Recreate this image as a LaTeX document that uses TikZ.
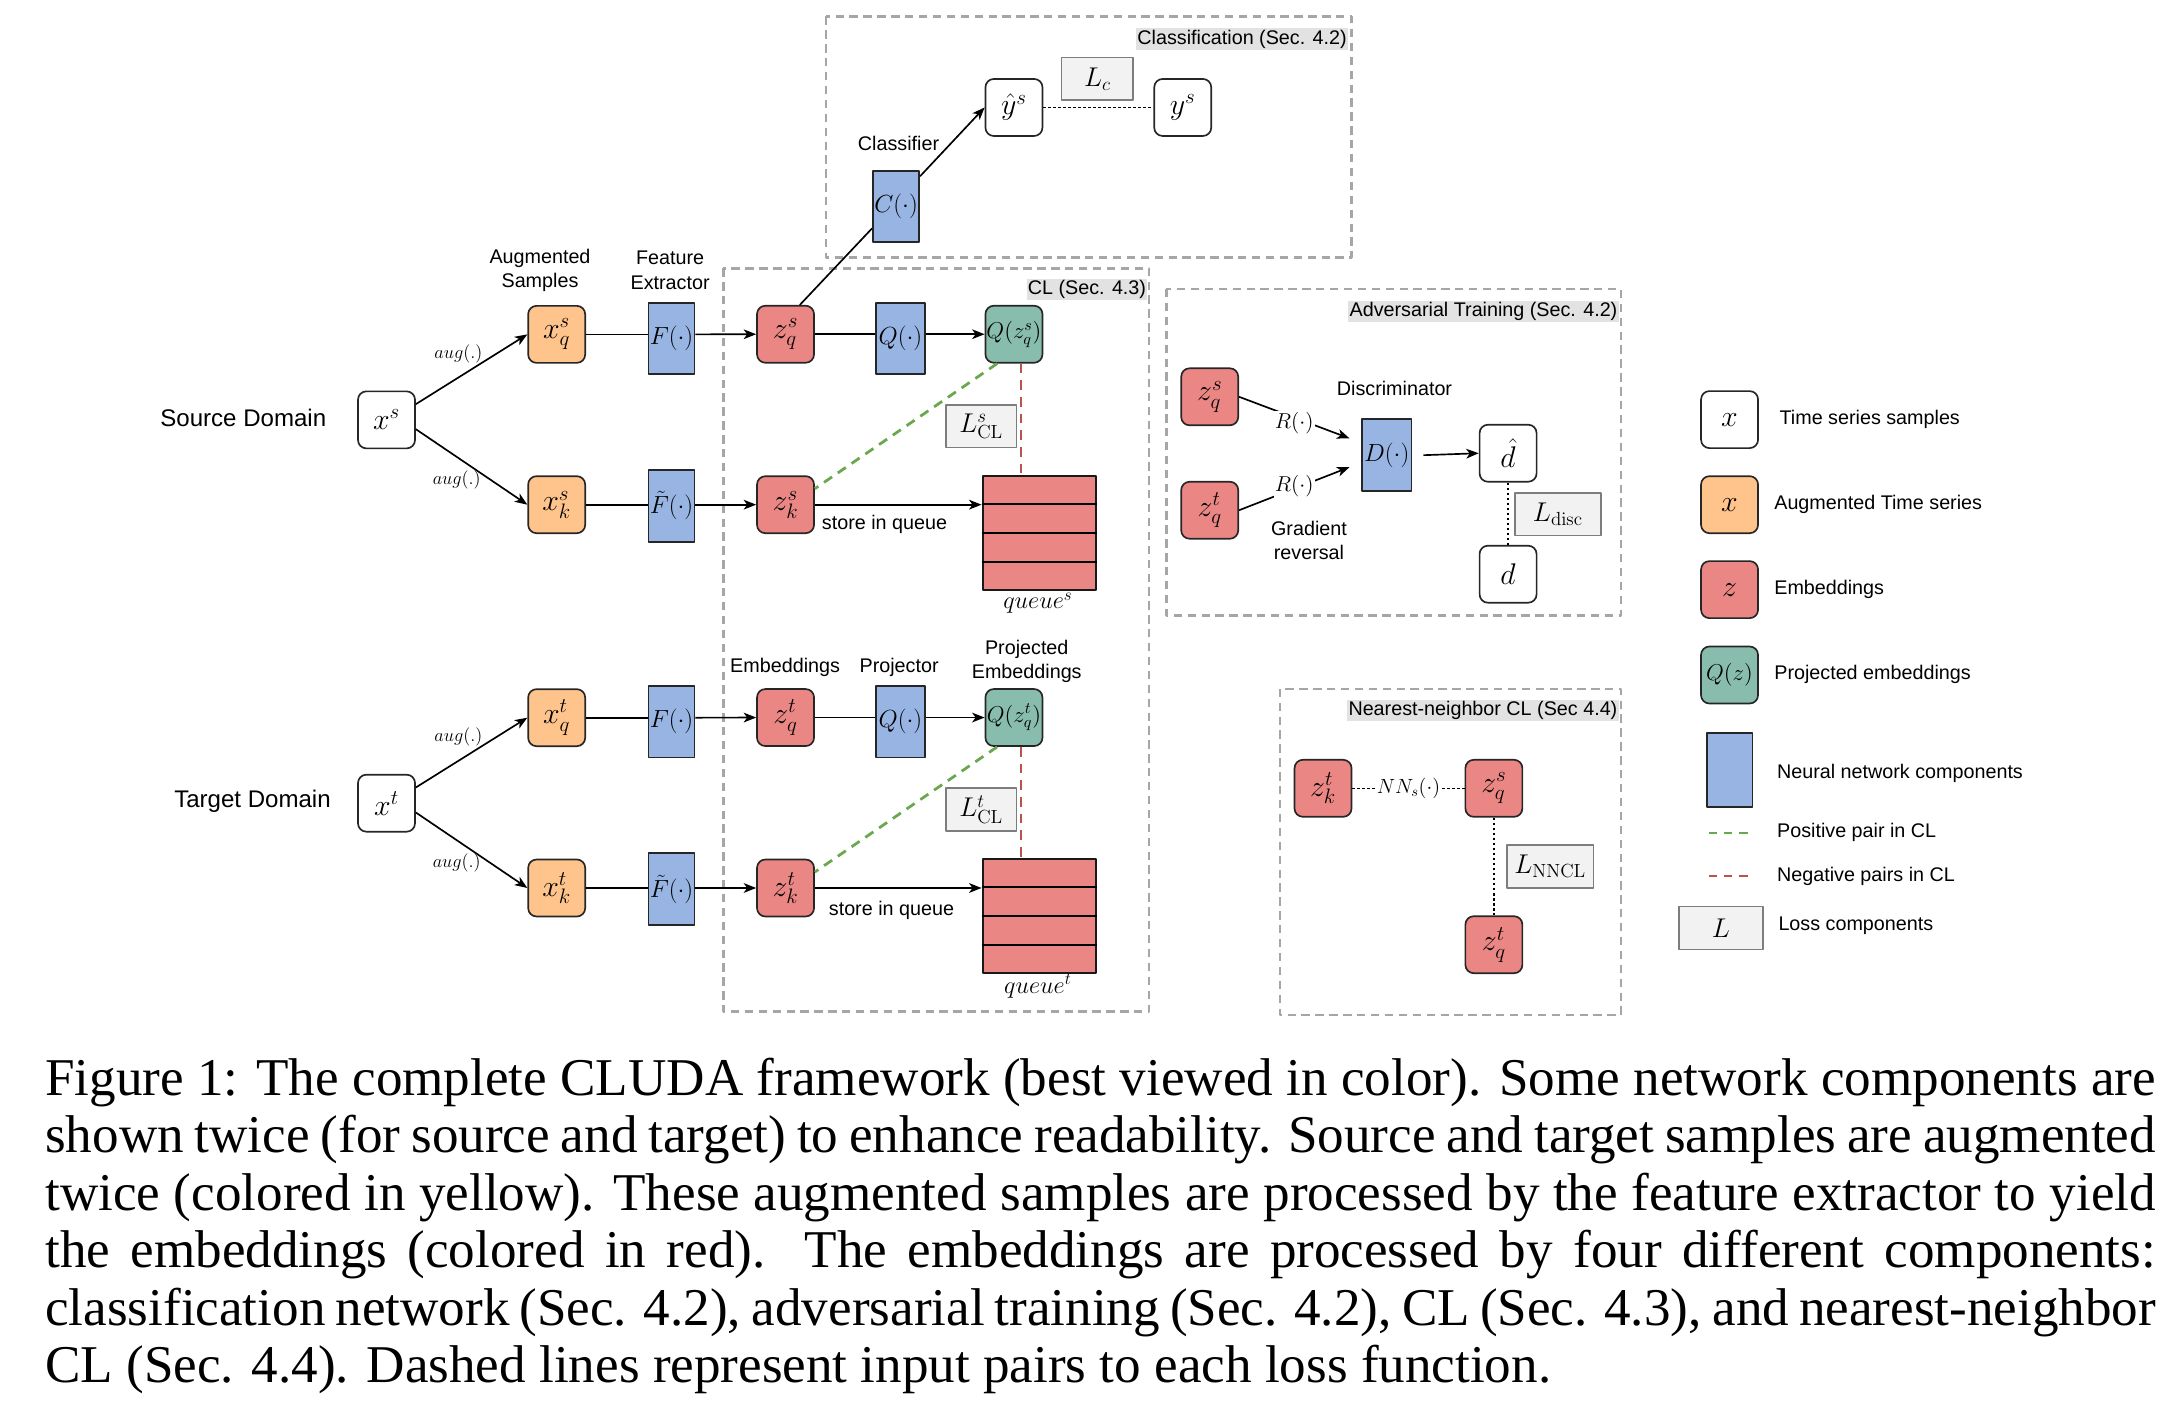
\RequirePackage{fix-cm}
\documentclass[tikz,border=0pt]{standalone}
\usepackage[no-math]{fontspec}
\setmainfont{Liberation Sans}
\newfontfamily\captfont{Liberation Serif}
\usetikzlibrary{arrows.meta,calc}
\definecolor{cOrange}{RGB}{255,196,140}
\definecolor{cRed}{RGB}{234,135,132}
\definecolor{cGreen}{RGB}{136,189,174}
\definecolor{cBlue}{RGB}{151,180,227}
\definecolor{cSec}{RGB}{166,166,166}
\definecolor{cTitle}{RGB}{226,226,226}
\definecolor{cLossFill}{RGB}{242,242,242}
\definecolor{cLossDraw}{RGB}{125,125,125}
\definecolor{cPos}{RGB}{106,168,79}
\definecolor{cNeg}{RGB}{184,84,80}
\newcommand\fsLab{\fontsize{14.2}{17.5}\selectfont}
\newcommand\fsDom{\fontsize{17.3}{20}\selectfont}
\newcommand\fsMath{\fontsize{21.5}{23}\selectfont}
\newcommand\fsLoss{\fontsize{19.5}{22}\selectfont}
\newcommand\fsQz{\fontsize{16.5}{18}\selectfont}
\tikzset{
 bx/.style={draw=black!85, line width=1.2pt, rounded corners=6pt, minimum width=41pt, minimum height=41pt, inner sep=0pt, font=\fsMath},
 wb/.style={bx, fill=white},
 ob/.style={bx, fill=cOrange},
 rb/.style={bx, fill=cRed},
 gb/.style={bx, fill=cGreen},
 nn/.style={draw=black!85, line width=1.3pt, fill=cBlue, minimum width=33pt, minimum height=51.5pt, inner sep=0pt, font=\fontsize{17.8}{20}\selectfont},
 qbox/.style={draw=black!90, line width=1.5pt, fill=cRed, minimum width=81.7pt, minimum height=82pt, inner sep=0pt},
 loss/.style={draw=cLossDraw, line width=1.2pt, fill=cLossFill, minimum width=51pt, minimum height=30.7pt, inner sep=0pt, font=\fsLoss},
 secbox/.style={draw=cSec, line width=1.8pt, dash pattern=on 6pt off 4pt},
 sectitle/.style={fill=cTitle, inner sep=1pt, font=\fsLab, anchor=east},
 lab/.style={font=\fsLab, align=center, inner sep=0pt},
 arr/.style={-{Stealth[length=9pt,width=7pt,inset=2.5pt]}, line width=1.2pt},
 ln/.style={line width=1.2pt},
 dotl/.style={line width=1.1pt, dash pattern=on 2pt off 1.6pt},
 posl/.style={draw=cPos, line width=2pt, dash pattern=on 7pt off 5pt},
 negl/.style={draw=cNeg, line width=2pt, dash pattern=on 7pt off 5pt},
 auglab/.style={font=\fontsize{13.2}{15}\selectfont, inner sep=0pt},
}
\begin{document}
\begin{tikzpicture}[x=1pt, y=-1pt, line join=round]
\useasboundingbox (0,0) rectangle (1568,1008.4);

% ---------- section frames ----------
\draw[secbox] (594,11.8) rectangle (972,185.3);
\draw[secbox] (520.3,193) rectangle (826.6,727.6);
\draw[secbox] (839,207.9) rectangle (1166,442.7);
\draw[secbox] (920.7,495.4) rectangle (1166,730);
\node[sectitle] (tCls) at (969.8,28) {Classification (Sec. 4.2)};
\node[sectitle] (tCL) at (825.5,208.5) {CL (Sec. 4.3)};
\node[sectitle] (tAdv) at (1164.5,223.8) {Adversarial Training (Sec. 4.2)};
\node[sectitle] (tNN) at (1164.5,511) {Nearest-neighbor CL (Sec 4.4)};

% ---------- domain rows ----------
\foreach \dm/\yo in {s/0,t/275.7}{
  \node[wb] (x\dm) at (278,{302+\yo}) {$x^\dm$};
  \node[ob] (xq\dm) at (400.4,{240.5+\yo}) {$x^\dm_q$};
  \node[ob] (xk\dm) at (400.4,{363+\yo}) {$x^\dm_k$};
  \node[nn] (F\dm) at (483,{243.4+\yo}) {$F(\cdot)$};
  \node[nn] (Ft\dm) at (483,{363.8+\yo}) {$\tilde{F}(\cdot)$};
  \node[rb] (zq\dm) at (565,{240.4+\yo}) {$z^\dm_q$};
  \node[rb] (zk\dm) at (565,{363+\yo}) {$z^\dm_k$};
  \node[nn, minimum width=35.3pt] (Q\dm) at (647.6,{243.4+\yo}) {$Q(\cdot)$};
  \node[gb, font=\fsQz] (Qz\dm) at (729.3,{240.4+\yo}) {$Q(z^\dm_q)$};
  \node[qbox] (qu\dm) at (747.6,{383.4+\yo}) {};
  \foreach \f in {0.25,0.5,0.75}
    \draw[line width=1.5pt] ($(qu\dm.north west)!\f!(qu\dm.south west)$) -- ($(qu\dm.north east)!\f!(qu\dm.south east)$);
  \node[loss] (LCL\dm) at (705.7,{306.6+\yo}) {$L^\dm_{\mathrm{CL}}$};
  \node[font=\fontsize{17.5}{19}\selectfont, inner sep=0pt] (qul\dm) at (746.5,{433.8+\yo}) {$queue^\dm$};
  \node[auglab] (augq\dm) at (329.7,{254.6+\yo}) {$aug(.)$};
  \node[auglab] (augk\dm) at (328.5,{345.3+\yo}) {$aug(.)$};
  \draw[arr] ($(x\dm.east)+(0,-11.3)$) -- (xq\dm.west);
  \draw[arr] ($(x\dm.east)+(0,6.7)$) -- (xk\dm.west);
  \draw[ln] (xq\dm.east) -- (xq\dm.east -| F\dm.west);
  \draw[arr] (xq\dm.east -| F\dm.east) -- (zq\dm.west);
  \draw[ln] (xk\dm.east) -- (xk\dm.east -| Ft\dm.west);
  \draw[arr] (xk\dm.east -| Ft\dm.east) -- (zk\dm.west);
  \draw[ln] (zq\dm.east) -- (zq\dm.east -| Q\dm.west);
  \draw[arr] (zq\dm.east -| Q\dm.east) -- (Qz\dm.west);
  \draw[arr] (zk\dm.east) -- (zk\dm.east -| qu\dm.west);
  \draw[posl] ($(Qz\dm.south west)+(9,0)$) -- ($(zk\dm.north east)+(0,9.6)$);
  \coordinate (rq\dm) at ($(Qz\dm.south)+(5.1,0)$);
  \draw[negl] (rq\dm) -- (rq\dm |- qu\dm.north);
}

\node[font=\fsDom, inner sep=0pt] (srcDom) at (175,300.5) {Source Domain};
\node[font=\fsDom, inner sep=0pt] (tgtDom) at (181.6,576.6) {Target Domain};
\node[lab] (augS) at (388.4,194.5) {Augmented\\Samples};
\node[lab] (featE) at (482,194.5) {Feature\\Extractor};
\node[lab, anchor=west] (sqS) at (591,377) {store in queue};
\node[lab, anchor=west] (sqT) at (596,654.5) {store in queue};
\node[lab] (embL) at (564.7,480) {Embeddings};
\node[lab] (projL) at (646.7,480) {Projector};
\node[lab] (pembL) at (738.5,475.6) {Projected\\Embeddings};

% ---------- classification ----------
\node[nn, minimum width=33.3pt, minimum height=51.4pt] (C) at (644.5,148.5) {$C(\cdot)$};
\node[wb] (yhat) at (729.3,77.3) {$\hat{y}^s$};
\node[wb] (ys) at (850.7,77.3) {$y^s$};
\node[loss, minimum width=51.4pt, minimum height=30.8pt] (Lc) at (789.3,56.7) {$L_c$};
\node[lab] (clsL) at (646.3,103.2) {Classifier};
\draw[dotl] (yhat) -- (ys);
\draw[ln] ($(zqs.north)+(10.3,0)$) -- ($(C.west)+(0,15.8)$);
\draw[arr] ($(C.north east)+(0,4.6)$) -- (yhat.west);

% ---------- adversarial ----------
\node[rb] (zqsA) at (870.1,285.4) {$z^s_q$};
\node[rb] (zqtA) at (870.1,367) {$z^t_q$};
\node[nn, minimum width=35.6pt, minimum height=51.6pt] (D) at (997.4,327.4) {$D(\cdot)$};
\node[wb] (dhat) at (1084.7,326) {$\hat{d}$};
\node[wb] (dd) at (1084.7,413) {$d$};
\node[loss, minimum width=61.6pt, minimum height=30.6pt] (Ldisc) at (1120.5,369.9) {$L_{\mathrm{disc}}$};
\node[lab] (discL) at (1003,279.6) {Discriminator};
\node[lab] (gradL) at (941.5,388.6) {Gradient\\reversal};
\draw[arr] (zqsA.east) -- node[fill=white, inner sep=1pt, yshift=-4pt, font=\fontsize{15.5}{17}\selectfont] {$R(\cdot)$} ($(D.west)+(-8.3,-12.1)$);
\draw[arr] (zqtA.east) -- node[fill=white, inner sep=1pt, yshift=2pt, font=\fontsize{15.5}{17}\selectfont] {$R(\cdot)$} ($(D.west)+(-8.3,8.6)$);
\draw[arr] ([xshift=8pt]D.east) -- (dhat.west);
\draw[dotl] (dhat) -- (dd);

% ---------- nearest neighbour ----------
\node[rb] (zktN) at (951.6,567) {$z^t_k$};
\node[rb] (zqsN) at (1074.5,567) {$z^s_q$};
\node[rb] (zqtN) at (1074.5,679.5) {$z^t_q$};
\node[loss, minimum width=62.4pt, minimum height=30.9pt] (Lnn) at (1115,623.2) {$L_{\mathrm{NNCL}}$};
\draw[dotl] (zktN) -- node[fill=white, inner sep=1pt, font=\fontsize{14.8}{16}\selectfont] {$NN_s(\cdot)$} (zqsN);
\draw[dotl] (zqsN) -- (zqtN);

% ---------- legend ----------
\node[wb] (lgx) at (1244,301.8) {$x$};
\node[ob] (lgax) at (1244,363) {$x$};
\node[rb] (lgz) at (1244,424.1) {$z$};
\node[gb, font=\fsQz] (lgq) at (1244,485.5) {$Q(z)$};
\node[nn, minimum width=33pt, minimum height=53.5pt] (lgnn) at (1244,553.7) {};
\coordinate (lgpa) at (1229,599);
\coordinate (lgpb) at (1261,599);
\coordinate (lgna) at (1229,630);
\coordinate (lgnb) at (1261,630);
\draw[posl, line width=1.6pt, dash pattern=on 6pt off 5pt] (lgpa) -- (lgpb);
\draw[negl, line width=1.6pt, dash pattern=on 6pt off 5pt] (lgna) -- (lgnb);
\node[loss, minimum width=60.4pt, minimum height=31pt] (lgL) at (1237.8,667.5) {$L$};
\node[lab, anchor=west] (lt1) at (1279.8,301.6) {Time series samples};
\node[lab, anchor=west] (lt2) at (1276,363) {Augmented Time series};
\node[lab, anchor=west] (lt3) at (1276,424) {Embeddings};
\node[lab, anchor=west] (lt4) at (1276,485) {Projected embeddings};
\node[lab, anchor=west] (lt5) at (1278,556) {Neural network components};
\node[lab, anchor=west] (lt6) at (1278,599) {Positive pair in CL};
\node[lab, anchor=west] (lt7) at (1278,630) {Negative pairs in CL};
\node[lab, anchor=west] (lt8) at (1279,666) {Loss components};

% ---------- caption ----------
\node[anchor=base west, inner sep=0pt, text width=1518pt, align=justify,
      font=\captfont\fontsize{38.2}{41.4}\selectfont] (cap) at (32.4,787.6)
 {\hyphenpenalty=10000 Figure 1: The complete CLUDA framework (best viewed in color). Some network components are\linebreak
 shown twice (for source and target) to enhance readability. Source and target samples are augmented\linebreak
 twice (colored in yellow). These augmented samples are processed by the feature extractor to yield\linebreak
 the embeddings (colored in red).  The embeddings are processed by four different components:\linebreak
 classification network (Sec. 4.2), adversarial training (Sec. 4.2), CL (Sec. 4.3), and nearest-neighbor\linebreak
 CL (Sec. 4.4). Dashed lines represent input pairs to each loss function.};
\end{tikzpicture}
\end{document}
